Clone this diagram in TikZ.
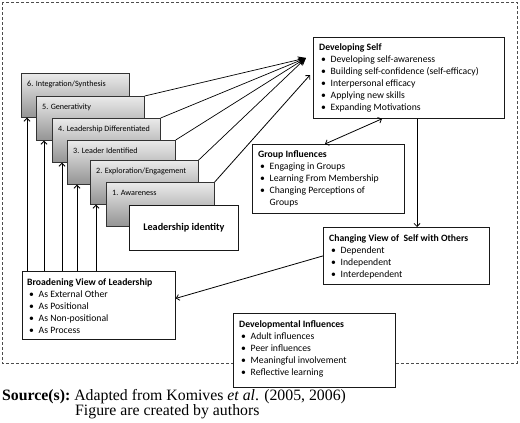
\documentclass[tikz,border=0pt]{standalone}
\usepackage{fontspec}
\setmainfont{Carlito}
\newfontfamily\srcfont{Liberation Serif}
\usetikzlibrary{arrows.meta,calc}
\newcommand{\bi}{\hspace*{2pt}\makebox[9.5pt][l]{\textbullet}}
\begin{document}
\begin{tikzpicture}[x=1pt,y=-1pt,
  frame/.style={draw=black!70, dash pattern=on 3pt off 2pt, line width=0.9pt},
  stagebox/.style={draw=black!80, line width=0.7pt, top color=black!8, bottom color=black!42, anchor=north west, minimum width=108pt, minimum height=44pt, inner sep=0pt},
  infobox/.style={draw=black!90, line width=0.8pt, fill=white, anchor=north west, inner sep=0pt},
  stagetxt/.style={anchor=base west, font=\fontsize{8.1}{9}\selectfont, inner sep=0pt},
  boxtxt/.style={anchor=north west, align=left, font=\fontsize{9.7}{12}\selectfont, inner sep=0pt},
  barb/.style={-{Straight Barb[length=3pt,width=6pt]}, line width=0.8pt},
  dbarb/.style={{Straight Barb[length=3pt,width=6pt]}-{Straight Barb[length=3pt,width=6pt]}, line width=0.8pt},
  conv/.style={-{Stealth[length=8pt,width=7pt]}, line width=0.7pt}
]
\useasboundingbox (0,0) rectangle (520,423);

% dashed frame
\draw[frame] (2,2) rectangle (517,363);

% stage boxes
\node[stagebox] (s6) at (21,73) {};
\node[stagetxt] at ($(s6.north west)+(6,13)$) {6. Integration/Synthesis};
\node[stagebox] (s5) at (36,96) {};
\node[stagetxt] at ($(s5.north west)+(6,13)$) {5. Generativity};
\node[stagebox] (s4) at (52,118) {};
\node[stagetxt] at ($(s4.north west)+(6,13)$) {4. Leadership Differentiated};
\node[stagebox] (s3) at (67,140) {};
\node[stagetxt] at ($(s3.north west)+(6,13)$) {3. Leader Identified};
\node[stagebox] (s2) at (90,160) {};
\node[stagetxt] at ($(s2.north west)+(6,13)$) {2. Exploration/Engagement};
\node[stagebox] (s1) at (106,182) {};
\node[stagetxt] at ($(s1.north west)+(6,13)$) {1. Awareness};
\node[infobox, minimum width=109pt, minimum height=45pt, font=\bfseries\fontsize{10.2}{12}\selectfont] (li) at (129,205) {Leadership identity};

% Developing Self
\node[infobox, minimum width=191pt, minimum height=81pt] (ds) at (313,37) {};
\node[boxtxt] at ($(ds.north west)+(6,6)$) {\textbf{Developing Self}\\
\bi Developing self-awareness\\
\bi Building self-confidence (self-efficacy)\\
\bi Interpersonal efficacy\\
\bi Applying new skills\\
\bi Expanding Motivations};

% Group Influences
\node[infobox, minimum width=152pt, minimum height=69pt] (gi) at (252,144) {};
\node[boxtxt] at ($(gi.north west)+(6,7)$) {\textbf{Group Influences}\\
\bi Engaging in Groups\\
\bi Learning From Membership\\
\bi Changing Perceptions of\\
\hspace*{11.5pt}Groups};

% Changing View
\node[infobox, minimum width=166pt, minimum height=57pt] (cv) at (323,227) {};
\node[boxtxt] at ($(cv.north west)+(6,7)$) {\textbf{Changing View of\ \ Self with Others}\\
\bi Dependent\\
\bi Independent\\
\bi Interdependent};

% Broadening View
\node[infobox, minimum width=153pt, minimum height=68pt] (bv) at (22,271) {};
\node[boxtxt] at ($(bv.north west)+(5,7)$) {\textbf{Broadening View of Leadership}\\
\bi As External Other\\
\bi As Positional\\
\bi As Non-positional\\
\bi As Process};

% Developmental Influences
\node[infobox, line width=1.4pt, minimum width=162pt, minimum height=74pt] (di) at (233,313) {};
\node[boxtxt] at ($(di.north west)+(6,7)$) {\textbf{Developmental Influences}\\
\bi Adult influences\\
\bi Peer influences\\
\bi Meaningful involvement\\
\bi Reflective learning};

% coordinates
\coordinate (dsin) at ($(ds.north west)+(-7,21)$);
\coordinate (dsin1) at ($(ds.north west)+(-3,38)$);
\coordinate (a6) at ($(s6.south west)+(6,0)$);
\coordinate (a5) at ($(s5.south west)+(8,0)$);
\coordinate (a4) at ($(s4.south west)+(10,0)$);
\coordinate (a3) at ($(s3.south west)+(10,0)$);
\coordinate (a2) at ($(s2.south west)+(6,0)$);
\coordinate (gtop) at ($(gi.north west)+(73,0)$);
\coordinate (dsbot) at ($(ds.south west)+(69,0)$);
\coordinate (dsdown) at ($(ds.south west)+(104,0)$);
\coordinate (bvin) at ($(bv.east)+(0,-7)$);

% connectors
\draw[conv] (s5.north east) -- (dsin);
\draw[conv] (s4.north east) -- (dsin);
\draw[conv] (s3.north east) -- (dsin);
\draw[conv] (s2.north east) -- (dsin);
\draw[barb] (s1.north east) -- (dsin1);

\foreach \a in {a6,a5,a4,a3,a2}
  \draw[barb] (\a |- bv.north) -- (\a);

\draw[dbarb] (gtop) -- (dsbot);
\draw[barb] (dsdown) -- (dsdown |- cv.north);
\draw[barb] (cv.west) -- (bvin);

% source
\node[anchor=base west, inner sep=0pt, font=\srcfont\fontsize{15.8}{17}\selectfont] (src) at (2,400) {\textbf{Source(s):}\ Adapted from Komives \emph{et al}. (2005, 2006)};
\node[anchor=base west, inner sep=0pt, font=\srcfont\fontsize{15.8}{17}\selectfont] (fig) at (75,415) {Figure are created by authors};
\end{tikzpicture}
\end{document}
